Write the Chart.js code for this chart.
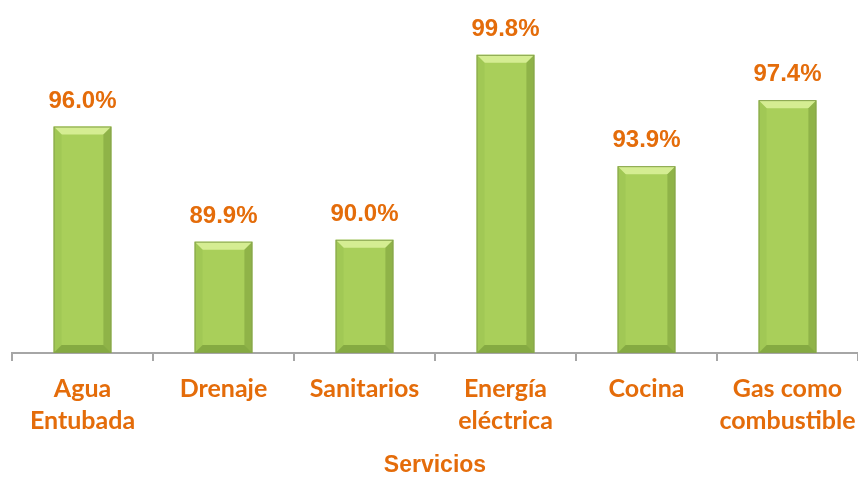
<!DOCTYPE html>
<html>
<head>
<meta charset="utf-8">
<script src="https://cdn.jsdelivr.net/npm/chart.js@4.4.0/dist/chart.umd.min.js"></script>
<style>
  html, body { margin: 0; padding: 0; background: #fff; }
  #wrap { width: 858px; height: 477px; }
</style>
</head>
<body>
<div id="wrap"><canvas id="serviciosChart"></canvas></div>
<script>
// Chart data
const categories = [
    ['Agua', 'Entubada'],
    ['Drenaje'],
    ['Sanitarios'],
    ['Energía', 'eléctrica'],
    ['Cocina'],
    ['Gas como', 'combustible']
];
const coverage = [96.0, 89.9, 90.0, 99.8, 93.9, 97.4];
const axisTitle = 'Servicios';

const ORANGE = '#E46C0A';

// Bevelled green bars plus value labels on top
const bevelPlugin = {
    id: 'bevel',
    afterDatasetsDraw(chart) {
        const ctx = chart.ctx;
        const area = chart.chartArea;
        const meta = chart.getDatasetMeta(0);
        meta.data.forEach((bar, i) => {
            const left = bar.x - bar.width / 2;
            const right = bar.x + bar.width / 2;
            const top = bar.y;
            const bottom = Math.min(bar.base, area.bottom);
            const b = 8;
            ctx.save();
            // top bevel
            ctx.fillStyle = 'rgba(215,238,150,0.95)';
            ctx.beginPath();
            ctx.moveTo(left, top);
            ctx.lineTo(right, top);
            ctx.lineTo(right - b, top + b);
            ctx.lineTo(left + b, top + b);
            ctx.closePath();
            ctx.fill();
            // left bevel
            ctx.fillStyle = 'rgba(150,190,80,0.45)';
            ctx.beginPath();
            ctx.moveTo(left, top);
            ctx.lineTo(left + b, top + b);
            ctx.lineTo(left + b, bottom - b);
            ctx.lineTo(left, bottom);
            ctx.closePath();
            ctx.fill();
            // right bevel
            ctx.fillStyle = 'rgba(110,145,50,0.45)';
            ctx.beginPath();
            ctx.moveTo(right, top);
            ctx.lineTo(right - b, top + b);
            ctx.lineTo(right - b, bottom - b);
            ctx.lineTo(right, bottom);
            ctx.closePath();
            ctx.fill();
            // bottom bevel
            ctx.fillStyle = 'rgba(110,145,50,0.6)';
            ctx.beginPath();
            ctx.moveTo(left, bottom);
            ctx.lineTo(left + b, bottom - b);
            ctx.lineTo(right - b, bottom - b);
            ctx.lineTo(right, bottom);
            ctx.closePath();
            ctx.fill();
            // outline
            ctx.strokeStyle = '#86a34c';
            ctx.lineWidth = 1;
            ctx.strokeRect(left + 0.5, top + 0.5, bar.width - 1, bottom - top - 1);
            // value label
            ctx.fillStyle = ORANGE;
            ctx.font = 'bold 24px "Liberation Sans Narrow", "Liberation Sans", Arial, sans-serif';
            ctx.textAlign = 'center';
            ctx.textBaseline = 'alphabetic';
            ctx.fillText(coverage[i].toFixed(1) + '%', bar.x, top - 19);
            ctx.restore();
        });
    }
};

function barGradient(context) {
    const el = context.element;
    if (!el || el.width === undefined) return '#a9cf5a';
    const x0 = el.x - el.width / 2;
    const g = context.chart.ctx.createLinearGradient(x0, 0, x0 + el.width, 0);
    g.addColorStop(0, '#a3c95a');
    g.addColorStop(0.5, '#b0d562');
    g.addColorStop(1, '#9cc152');
    return g;
}

new Chart(document.getElementById('serviciosChart'), {
    type: 'bar',
    data: {
        labels: categories,
        datasets: [{
            data: coverage,
            backgroundColor: barGradient,
            borderWidth: 0,
            barPercentage: 0.41,
            categoryPercentage: 1.0
        }]
    },
    options: {
        responsive: true,
        maintainAspectRatio: false,
        animation: false,
        layout: { padding: { left: 12, right: 0, top: 2, bottom: 0 } },
        scales: {
            y: {
                display: false,
                min: 84,
                max: 102.6
            },
            x: {
                // let the axis run to the right edge, labels may overhang
                afterFit(scale) {
                    scale.paddingLeft = 0;
                    scale.paddingRight = 0;
                },
                border: { color: '#a6a6a6', width: 2 },
                grid: {
                    offset: true,
                    drawOnChartArea: false,
                    tickLength: 8,
                    color: '#a6a6a6',
                    lineWidth: 2
                },
                ticks: {
                    color: ORANGE,
                    padding: 12,
                    maxRotation: 0,
                    autoSkip: false,
                    font: { family: 'Lato, "Open Sans", sans-serif', weight: 'bold', size: 25, lineHeight: 1.28 }
                },
                title: {
                    display: true,
                    text: axisTitle,
                    color: ORANGE,
                    padding: { top: 5, bottom: 0 },
                    font: { family: '"Liberation Sans Narrow", "Liberation Sans", Arial, sans-serif', weight: 'bold', size: 23, lineHeight: 1.0 }
                }
            }
        },
        plugins: {
            legend: { display: false },
            tooltip: { enabled: false }
        }
    },
    plugins: [bevelPlugin]
});
</script>
</body>
</html>
